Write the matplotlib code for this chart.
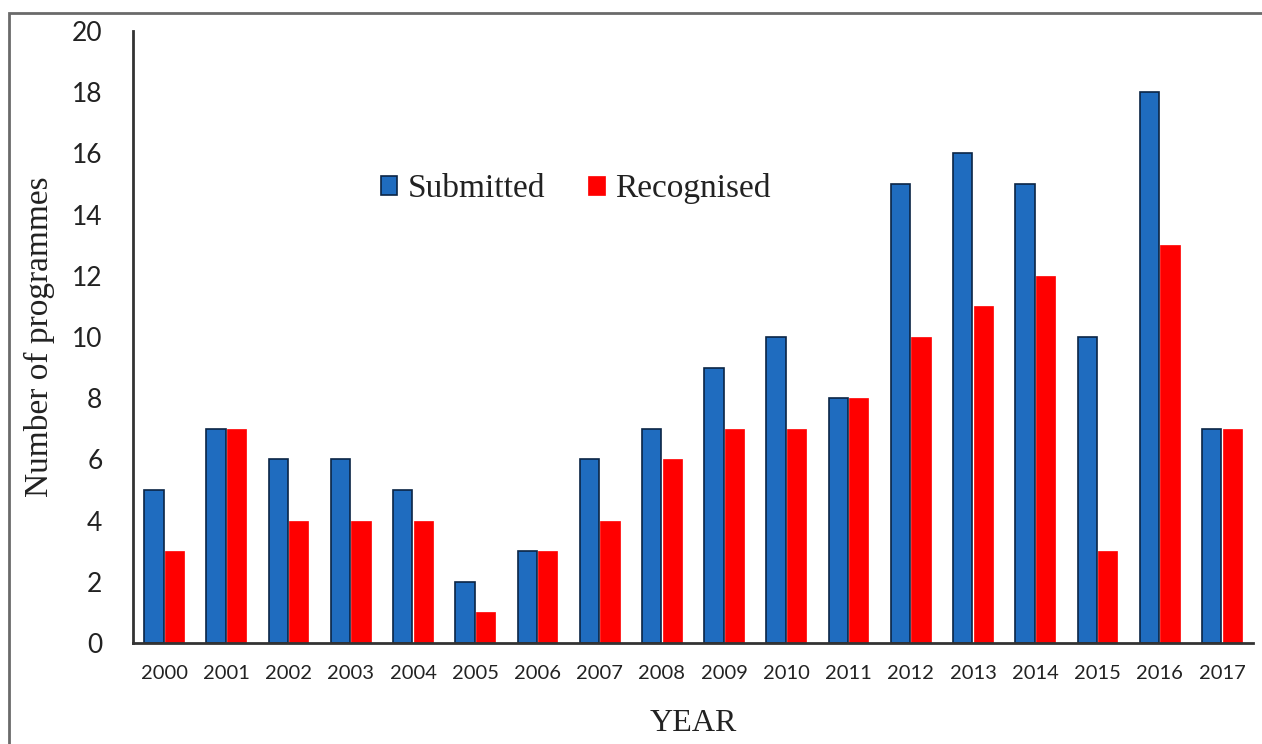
import numpy as np
import matplotlib.pyplot as plt
from matplotlib.patches import Rectangle

years = [str(y) for y in range(2000, 2018)]
submitted = [5, 7, 6, 6, 5, 2, 3, 6, 7, 9, 10, 8, 15, 16, 15, 10, 18, 7]
recognised = [3, 7, 4, 4, 4, 1, 3, 4, 6, 7, 7, 8, 10, 11, 12, 3, 13, 7]

serif = "Liberation Serif"
sans = "Lato"

fig = plt.figure(figsize=(12.62, 7.44), dpi=100)
ax = fig.add_axes([0.1054, 0.1358, 0.8875, 0.8226])

# outer frame (cut off at right/bottom like the source)
fig.patches.append(Rectangle((9 / 1262, -0.05), 1.2, 1 - 13 / 744 + 0.05,
                             transform=fig.transFigure, fill=False,
                             edgecolor="#6a6a6a", linewidth=2))

x = np.arange(len(years))
w = 0.31
ax.bar(x - 0.165, submitted, w, color="#1f6cbf", edgecolor="#0b2545",
       linewidth=1.2, label="Submitted")
ax.bar(x + 0.165, recognised, w, color="#ff0000", edgecolor="#ff0000",
       linewidth=0.5, label="Recognised")

ax.set_xlim(-0.5, len(years) - 0.5)
ax.set_ylim(0, 20)
ax.set_yticks(range(0, 21, 2))
ax.set_xticks(x)
ax.set_xticklabels(years, fontfamily=sans, fontsize=14.5, color="#222222")
for t in ax.get_yticklabels():
    t.set_fontfamily(sans)
    t.set_fontsize(19)
    t.set_color("#222222")
ax.tick_params(axis="y", length=0, pad=22)
ax.tick_params(axis="x", length=0, pad=16)

for s in ["top", "right"]:
    ax.spines[s].set_visible(False)
for s in ["left", "bottom"]:
    ax.spines[s].set_linewidth(2)
    ax.spines[s].set_color("#333333")

ax.set_ylabel("Number of programmes", fontfamily=serif, fontsize=24,
              labelpad=12, color="#222222")
ax.set_xlabel("YEAR", fontfamily=serif, fontsize=23, labelpad=19,
              color="#222222")

ax.legend(loc="center", bbox_to_anchor=(0.395, 0.742), ncol=2, frameon=False,
          prop={"family": serif, "size": 24}, handlelength=0.5, handleheight=0.5,
          handletextpad=0.3, columnspacing=1.3, labelcolor="#222222")

plt.savefig("out.png", dpi=100)
